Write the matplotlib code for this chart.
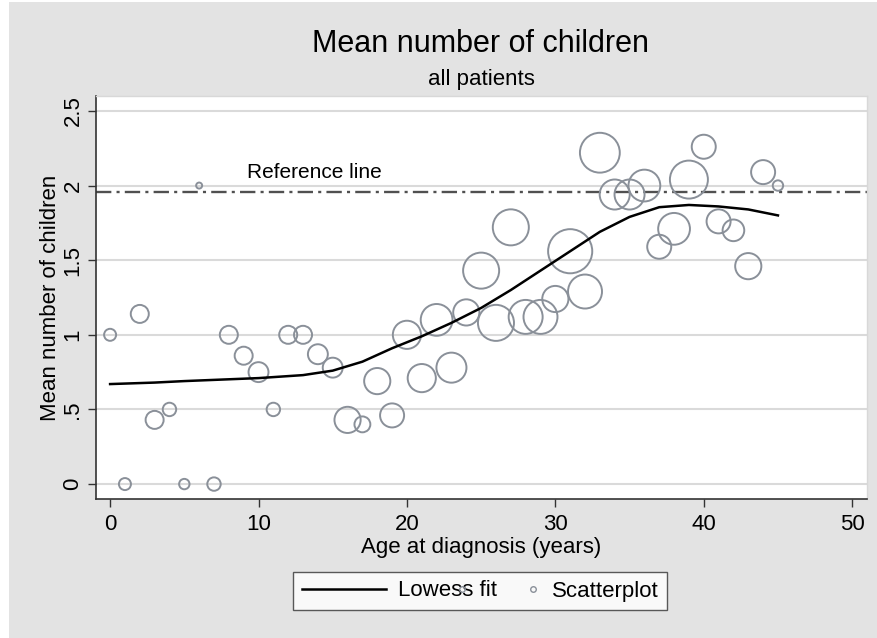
#!/usr/bin/env python3

import matplotlib
matplotlib.use("Agg")
import matplotlib.pyplot as plt
from matplotlib.lines import Line2D
from matplotlib.legend_handler import HandlerLine2D
from matplotlib.patches import Rectangle
import numpy as np

plt.rcParams['font.family'] = ['Liberation Sans', 'DejaVu Sans']

# mean number of children per age at diagnosis, bubble weight = patients
ages = list(range(0, 46))
mean_children = [1.0, 0.0, 1.14, 0.43, 0.50, 0.0, 2.0, 0.0, 1.0, 0.86,
                 0.75, 0.50, 1.0, 1.0, 0.87, 0.78, 0.43, 0.40, 0.69, 0.46,
                 1.0, 0.71, 1.10, 0.78, 1.15, 1.43, 1.08, 1.72, 1.12, 1.12,
                 1.24, 1.56, 1.29, 2.22, 1.94, 1.94, 2.0, 1.59, 1.71, 2.04,
                 2.26, 1.76, 1.70, 1.46, 2.09, 2.0]
n_patients = [4, 4, 9, 9, 5, 3, 1, 5, 9, 9,
              11, 5, 9, 9, 11, 11, 19, 7, 19, 16,
              22, 22, 28, 25, 19, 36, 36, 36, 32, 32,
              19, 54, 32, 44, 25, 25, 28, 16, 28, 40,
              16, 16, 13, 19, 16, 3]

# lowess fit
lowess_age = [0, 3, 5, 10, 13, 15, 17, 19, 21, 23, 25, 27, 29, 31, 33, 35, 37, 39, 41, 43, 45]
lowess_val = [0.67, 0.68, 0.69, 0.71, 0.73, 0.76, 0.82, 0.91, 0.99, 1.08, 1.18,
              1.30, 1.43, 1.56, 1.69, 1.79, 1.855, 1.87, 1.86, 1.84, 1.80]

reference_value = 1.96
yticks = [0, 0.5, 1, 1.5, 2, 2.5]
ytick_labels = ["0", ".5", "1", "1.5", "2", "2.5"]
xticks = [0, 10, 20, 30, 40, 50]

MARKER_COLOR = "#8a9099"


class MarkerAtRight(HandlerLine2D):
    # stata puts the small legend marker right next to its label
    def get_xdata(self, legend, xdescent, ydescent, width, height, fontsize):
        xdata, _ = super().get_xdata(legend, xdescent, ydescent, width, height, fontsize)
        return xdata, np.array([-xdescent + width - 4])


fig = plt.figure(figsize=(8.77, 6.38), dpi=100, facecolor="white")
fig.patches.append(Rectangle((9 / 877, 0), 1, 636 / 638, transform=fig.transFigure,
                             facecolor="#e3e3e3", edgecolor="none", zorder=-10))
ax = fig.add_axes([96 / 877, 139 / 638, 771 / 877, 403 / 638])
ax.set_facecolor("white")

for y in yticks:
    ax.axhline(y, color="#dadada", linewidth=1.5, zorder=0)

ax.axhline(reference_value, color="#505050", linewidth=1.7,
           linestyle=(0, (6.5, 2.2, 1.3, 2.2)), zorder=1)
ax.text(9.2, 2.09, "Reference line", fontsize=15, va="center", ha="left")

ax.scatter(ages, mean_children, s=[18.7 * n for n in n_patients],
           facecolors="none", edgecolors=MARKER_COLOR, linewidths=1.4, zorder=2)
ax.plot(lowess_age, lowess_val, color="black", linewidth=1.8, zorder=3)

ax.set_xlim(-0.95, 51)
ax.set_ylim(-0.1, 2.6)
ax.set_xticks(xticks)
ax.set_yticks(yticks)
ax.set_yticklabels(ytick_labels, rotation=90, va="center")
ax.tick_params(axis="both", labelsize=16, length=6, width=1, color="#333333")
ax.tick_params(axis="x", pad=5)
ax.tick_params(axis="y", pad=3)
ax.set_xlabel("Age at diagnosis (years)", fontsize=16, labelpad=1)
ax.set_ylabel("Mean number of children", fontsize=16, labelpad=1)

for side in ["left", "bottom"]:
    ax.spines[side].set_color("#333333")
    ax.spines[side].set_linewidth(1.2)
for side in ["top", "right"]:
    ax.spines[side].set_color("#d8d8d8")
    ax.spines[side].set_linewidth(1.0)

fig.text(480 / 877, 1 - 44 / 638, "Mean number of children", fontsize=22,
         ha="center", va="center")
fig.text(481 / 877, 1 - 80 / 638, "all patients", fontsize=16,
         ha="center", va="center")

lowess_handle = Line2D([], [], color="black", linewidth=1.8)
scatter_handle = Line2D([], [], linestyle="none", marker="o", markersize=4,
                        markerfacecolor="none", markeredgecolor=MARKER_COLOR,
                        markeredgewidth=1)
leg = fig.legend([lowess_handle, scatter_handle], ["Lowess fit", "Scatterplot"],
                 ncol=2, fontsize=16, loc="center",
                 bbox_to_anchor=(480 / 877, 1 - 591 / 638),
                 frameon=True, fancybox=False, handlelength=3.8, handletextpad=0.55,
                 columnspacing=-1.9, borderpad=0.4,
                 handler_map={scatter_handle: MarkerAtRight(numpoints=2)})
leg.get_frame().set_edgecolor("#333333")
leg.get_frame().set_linewidth(1.0)

plt.savefig("out.png", dpi=100, facecolor=fig.get_facecolor())
